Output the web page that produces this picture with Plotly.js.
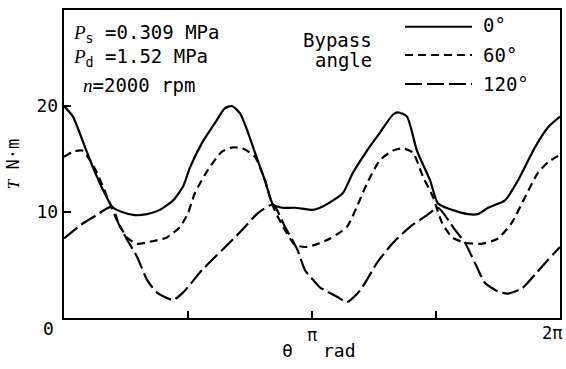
<!DOCTYPE html>
<html>
<head>
<meta charset="utf-8">
<script src="https://cdn.plot.ly/plotly-3.0.1.min.js"></script>
<style>html,body{margin:0;padding:0;background:#fff;}#chart{width:566px;height:369px;}</style>
</head>
<body>
<div id="chart"></div>
<script>
// theta in units of pi (rad / pi), torque T in N·m
var theta0 = [0, 0.036, 0.085, 0.117, 0.157, 0.194, 0.234, 0.286, 0.335, 0.387, 0.440, 0.480, 0.508, 0.556, 0.609, 0.649, 0.677, 0.710, 0.742, 0.770, 0.810, 0.843, 0.879, 0.931, 1.004, 1.032, 1.085, 1.125, 1.165, 1.222, 1.274, 1.327, 1.347, 1.383, 1.423, 1.476, 1.508, 1.565, 1.629, 1.669, 1.710, 1.778, 1.831, 1.899, 1.952, 2.0];
var torque0 = [20.0, 19.0, 16.1, 14.2, 12.1, 10.5, 10.0, 9.7, 9.8, 10.2, 11.1, 12.4, 14.2, 16.5, 18.4, 19.8, 20.0, 19.3, 17.5, 15.6, 13.0, 10.7, 10.4, 10.4, 10.2, 10.4, 11.1, 11.8, 13.7, 15.8, 17.5, 19.2, 19.4, 19.0, 15.8, 13.0, 10.8, 10.2, 9.8, 9.8, 10.4, 11.1, 13.0, 16.1, 18.0, 19.0];

var theta60 = [0, 0.036, 0.073, 0.105, 0.133, 0.173, 0.214, 0.254, 0.294, 0.347, 0.415, 0.468, 0.500, 0.528, 0.581, 0.637, 0.681, 0.722, 0.770, 0.810, 0.843, 0.891, 0.931, 0.972, 1.012, 1.073, 1.141, 1.181, 1.222, 1.274, 1.327, 1.367, 1.407, 1.448, 1.488, 1.524, 1.565, 1.617, 1.685, 1.750, 1.806, 1.859, 1.911, 1.952, 2.0];
var torque60 = [15.2, 15.7, 15.8, 14.9, 13.7, 11.5, 9.2, 7.6, 7.0, 7.2, 7.6, 8.6, 9.9, 11.8, 14.0, 15.7, 16.1, 16.0, 15.2, 13.0, 10.5, 8.3, 6.9, 6.7, 6.9, 7.5, 8.6, 10.5, 12.7, 14.9, 15.8, 16.0, 15.6, 13.3, 11.4, 9.0, 7.6, 7.1, 7.0, 7.5, 9.0, 11.4, 13.7, 14.7, 15.4];

var theta120 = [0, 0.069, 0.117, 0.194, 0.218, 0.254, 0.294, 0.335, 0.375, 0.440, 0.480, 0.556, 0.637, 0.718, 0.782, 0.843, 0.891, 0.940, 0.972, 1.004, 1.032, 1.101, 1.141, 1.194, 1.262, 1.327, 1.395, 1.464, 1.508, 1.577, 1.617, 1.657, 1.698, 1.750, 1.790, 1.847, 1.899, 1.952, 2.0];
var torque120 = [7.5, 8.8, 9.5, 10.5, 9.0, 7.4, 5.8, 3.6, 2.4, 1.7, 2.4, 4.5, 6.4, 8.3, 9.9, 10.7, 8.6, 6.5, 4.5, 3.6, 2.9, 2.0, 1.5, 2.6, 5.2, 7.1, 8.6, 9.7, 10.4, 8.3, 7.1, 5.2, 3.3, 2.5, 2.3, 2.8, 4.1, 5.5, 6.7];

var xLabelVals = [1];
var xLabelText = ['π'];
var xMinorTickVals = [0.5, 1.5];
var xEndLabel = '2π';
var xTitleSymbol = 'θ';
var xTitleUnit = 'rad';
var yTickVals = [10, 20];
var yTickText = ['10', '20'];
var yZeroLabel = '0';
var seriesNames = ['0°', '60°', '120°'];

var mono = 'DejaVu Sans Mono';
var serifI = function (s) { return '<span style="font-family:\'Liberation Serif\';font-style:italic">' + s + '</span>'; };

var traces = [
  {x: theta0, y: torque0, name: seriesNames[0], mode: 'lines', line: {color: '#000', width: 2.2, shape: 'spline', smoothing: 0.6}},
  {x: theta60, y: torque60, name: seriesNames[1], mode: 'lines', line: {color: '#000', width: 2.2, dash: '8px,5px', shape: 'spline', smoothing: 0.6}},
  {x: theta120, y: torque120, name: seriesNames[2], mode: 'lines', line: {color: '#000', width: 2.2, dash: '17px,5px', shape: 'spline', smoothing: 0.6}},
  // invisible trace that carries the unlabeled pi/2 and 3pi/2 ticks on an overlaying axis
  {x: [0, 2], y: [0, 0], xaxis: 'x2', mode: 'lines', line: {width: 0}, hoverinfo: 'skip', showlegend: false}
];

function px2x(px) { return (px - 64) / 496; }
function py2y(py) { return (318 - py) / 308; }

var legendY = [26.7, 55, 84];
var shapes = [];
var dashes = ['solid', '8px,5px', '17px,5px'];
for (var i = 0; i < 3; i++) {
  shapes.push({type: 'line', xref: 'paper', yref: 'paper', x0: px2x(405), x1: px2x(472), y0: py2y(legendY[i]), y1: py2y(legendY[i]), line: {color: '#000', width: 2, dash: dashes[i]}});
}

var annFont = {family: mono, size: 19, color: '#000'};
var annotations = [
  {xref: 'paper', yref: 'paper', x: px2x(71), y: py2y(33), xanchor: 'left', yanchor: 'middle', showarrow: false, font: annFont,
   text: serifI('P') + '<sub>s</sub> =0.309 MPa'},
  {xref: 'paper', yref: 'paper', x: px2x(71), y: py2y(57), xanchor: 'left', yanchor: 'middle', showarrow: false, font: annFont,
   text: serifI('P') + '<sub>d</sub> =1.52 MPa'},
  {xref: 'paper', yref: 'paper', x: px2x(81), y: py2y(85), xanchor: 'left', yanchor: 'middle', showarrow: false, font: annFont,
   text: serifI('n') + '=2000 rpm'},
  {xref: 'paper', yref: 'paper', x: px2x(374), y: py2y(40), xanchor: 'right', yanchor: 'middle', showarrow: false, font: annFont, text: 'Bypass'},
  {xref: 'paper', yref: 'paper', x: px2x(374), y: py2y(60), xanchor: 'right', yanchor: 'middle', showarrow: false, font: annFont, text: 'angle'},
  {xref: 'paper', yref: 'paper', x: px2x(481), y: py2y(legendY[0] - 2), xanchor: 'left', yanchor: 'middle', showarrow: false, font: annFont, text: seriesNames[0]},
  {xref: 'paper', yref: 'paper', x: px2x(481), y: py2y(legendY[1]), xanchor: 'left', yanchor: 'middle', showarrow: false, font: annFont, text: seriesNames[1]},
  {xref: 'paper', yref: 'paper', x: px2x(481), y: py2y(legendY[2]), xanchor: 'left', yanchor: 'middle', showarrow: false, font: annFont, text: seriesNames[2]},
  {xref: 'paper', yref: 'paper', x: px2x(48), y: py2y(328), xanchor: 'center', yanchor: 'middle', showarrow: false, font: {family: mono, size: 18}, text: yZeroLabel},
  {xref: 'paper', yref: 'paper', x: px2x(564), y: py2y(333), xanchor: 'right', yanchor: 'middle', showarrow: false, font: {family: mono, size: 17}, text: xEndLabel},
  {xref: 'paper', yref: 'paper', x: px2x(287), y: py2y(350), xanchor: 'center', yanchor: 'middle', showarrow: false, font: {family: mono, size: 18}, text: xTitleSymbol},
  {xref: 'paper', yref: 'paper', x: px2x(339), y: py2y(350), xanchor: 'center', yanchor: 'middle', showarrow: false, font: {family: mono, size: 18}, text: xTitleUnit}
];

var layout = {
  width: 566, height: 369,
  margin: {l: 64, r: 6, t: 10, b: 51},
  paper_bgcolor: '#fff', plot_bgcolor: '#fff',
  showlegend: false,
  font: {family: mono, size: 18, color: '#000'},
  xaxis: {
    range: [0, 2], showgrid: false, zeroline: false,
    showline: true, mirror: true, linecolor: '#000', linewidth: 2.2,
    ticks: 'inside', ticklen: 7, tickwidth: 1.5, tickcolor: '#000',
    tickvals: xLabelVals, ticktext: xLabelText, tickfont: {family: mono, size: 17}
  },
  xaxis2: {
    overlaying: 'x', matches: 'x', range: [0, 2], side: 'bottom', anchor: 'y',
    showgrid: false, zeroline: false, showline: false, showticklabels: false,
    ticks: 'inside', ticklen: 7, tickwidth: 1.5, tickcolor: '#000',
    tickvals: xMinorTickVals
  },
  yaxis: {
    range: [0, 29.06], showgrid: false, zeroline: false,
    showline: true, mirror: true, linecolor: '#000', linewidth: 2.2,
    ticks: 'inside', ticklen: 7, tickwidth: 1.5, tickcolor: '#000',
    tickvals: yTickVals, ticktext: yTickText, tickfont: {family: mono, size: 18},
    title: {text: serifI('T') + ' N·m', font: {family: mono, size: 17}}
  },
  shapes: shapes,
  annotations: annotations
};

Plotly.newPlot('chart', traces, layout, {staticPlot: true, displayModeBar: false});
</script>
</body>
</html>
